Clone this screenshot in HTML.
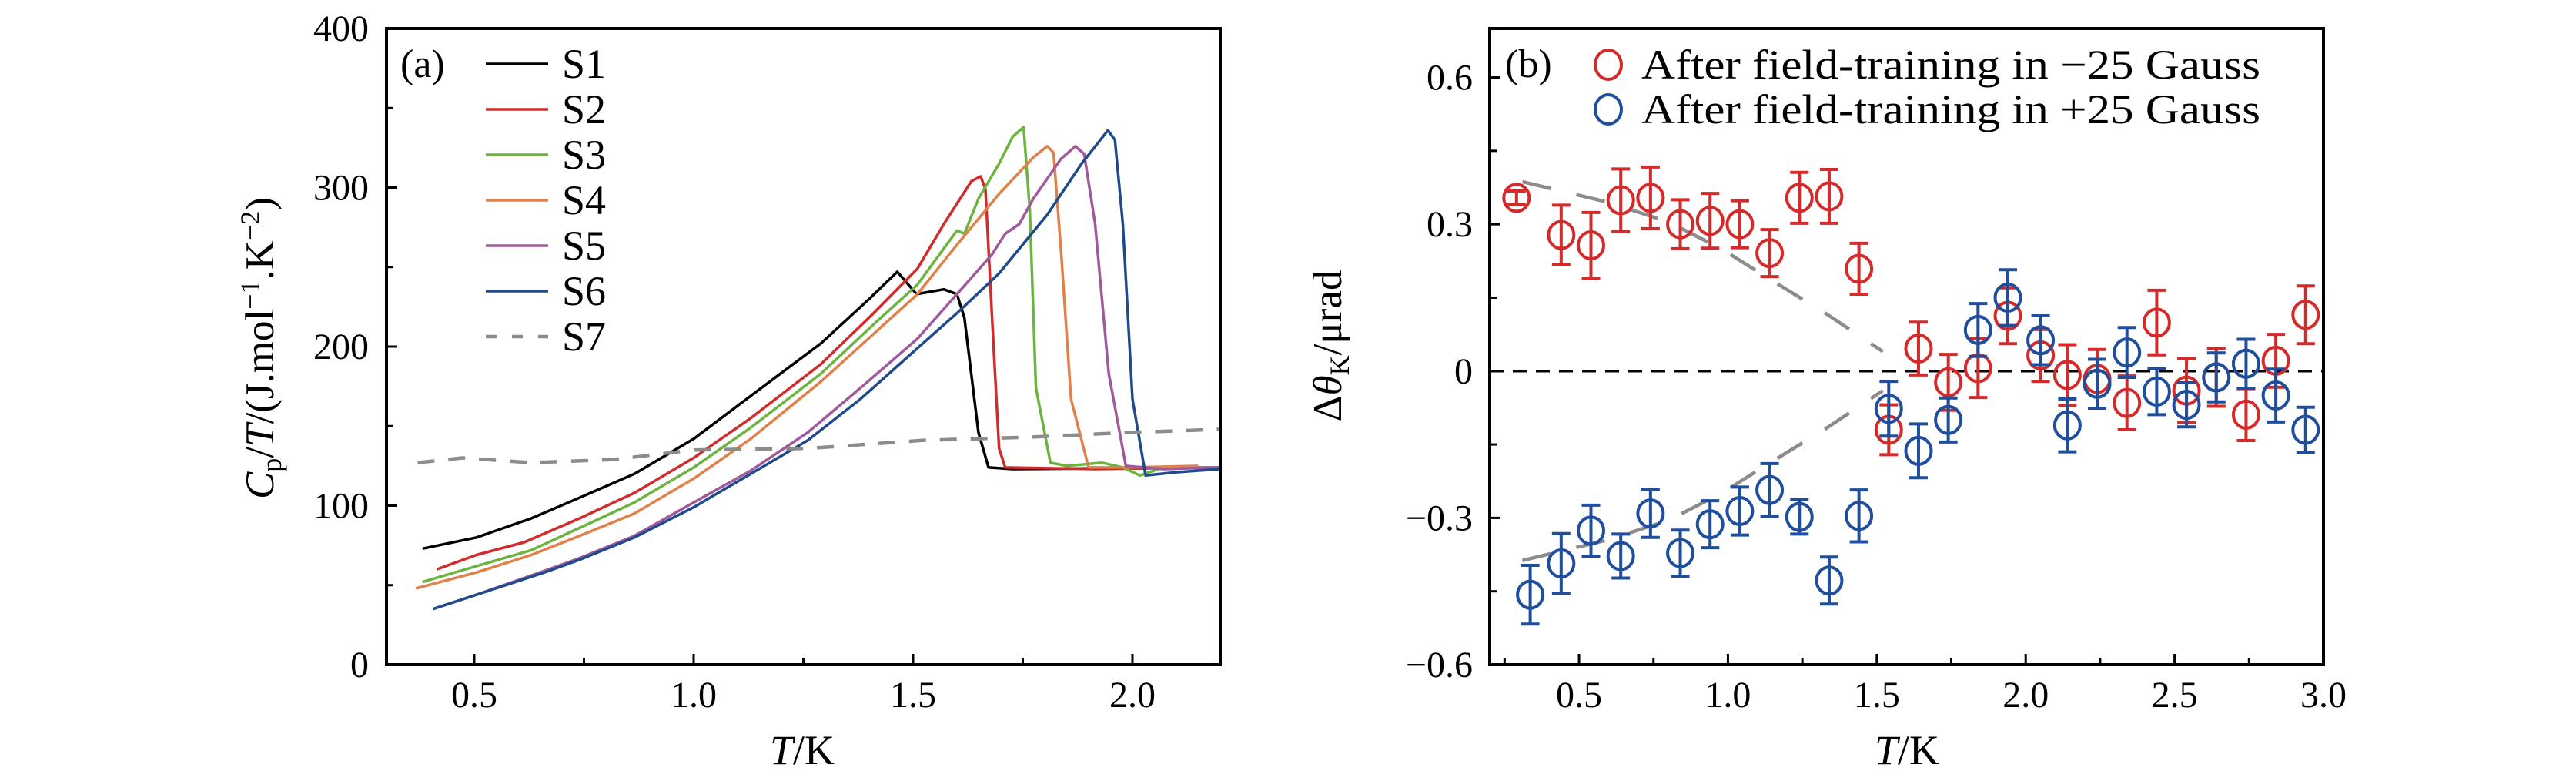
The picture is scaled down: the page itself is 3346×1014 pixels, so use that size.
<!DOCTYPE html>
<html><head><meta charset="utf-8"><style>
html,body{margin:0;padding:0;background:#fff;}
svg{display:block;font-family:"Liberation Serif",serif;}
</style></head><body>
<svg id="chart" width="3346" height="1014" viewBox="0 0 3346 1014" xmlns="http://www.w3.org/2000/svg">
<g id="pa"></g>
<g id="pb"></g>
</svg>
<script>
// ---------- Panel (a) data ----------
const aXTicks = [0.5, 1.0, 1.5, 2.0];
const aXTickLabels = ["0.5", "1.0", "1.5", "2.0"];
const aYTicks = [0, 100, 200, 300, 400];
const aYTickLabels = ["0", "100", "200", "300", "400"];
const aSeriesNames = ["S1", "S2", "S3", "S4", "S5", "S6", "S7"];
const s1T = [0.382,0.505,0.63,0.74,0.865,1.0,1.13,1.29,1.40,1.464,1.508,1.57,1.60,1.617,1.649,1.672,1.727,2.197];
const s1C = [73,80,92,105,120,142,169,202,230,247,233,236,233,218,146,124,123,124];
const s2T = [0.415,0.505,0.614,0.74,0.865,1.0,1.13,1.29,1.41,1.51,1.57,1.633,1.654,1.665,1.68,1.696,1.71,1.915,2.2];
const s2C = [60,69,77,92,108,130,155,189,221,249,277,304,307,299,218,136,124,123,124];
const s3T = [0.382,0.505,0.63,0.74,0.865,1.0,1.13,1.29,1.41,1.51,1.60,1.617,1.649,1.696,1.727,1.752,1.766,1.78,1.813,1.85,1.93,1.978,2.017,2.07,2.2];
const s3C = [52,62,72,86,102,124,149,183,214,239,273,271,293,315,332,338,286,174,127,125,127,124,119,124,124];
const s4T = [0.367,0.505,0.63,0.74,0.865,1.0,1.13,1.29,1.41,1.51,1.60,1.696,1.774,1.806,1.82,1.837,1.86,1.9,1.995,2.15];
const s4C = [48,58,69,81,95,117,142,178,208,233,264,296,319,326,322,261,167,124,124,125];
const s5T = [0.406,0.505,0.66,0.74,0.865,1.0,1.13,1.26,1.38,1.51,1.60,1.68,1.71,1.742,1.774,1.837,1.87,1.89,1.915,1.946,1.985,2.07,2.2];
const s5C = [35,44,59,67,81,102,122,146,174,205,233,258,271,277,293,318,326,321,277,183,125,123,124];
const s6T = [0.406,0.505,0.66,0.74,0.865,1.0,1.13,1.26,1.38,1.51,1.60,1.696,1.806,1.884,1.944,1.96,1.978,2.0,2.03,2.1,2.2];
const s6C = [35,44,58,66,80,99,120,141,167,199,221,246,283,315,336,330,277,167,119,121,123];
const s7T = [0.371,0.473,0.63,0.818,1.0,1.26,1.52,1.757,1.994,2.2];
const s7C = [127,130,127,129,135,136,141,143,146,148];

// ---------- Panel (b) data ----------
const bXTicks = [0.5, 1.0, 1.5, 2.0, 2.5, 3.0];
const bXTickLabels = ["0.5", "1.0", "1.5", "2.0", "2.5", "3.0"];
const bYTicks = [-0.6, -0.3, 0, 0.3, 0.6];
const bYTickLabels = ["\u22120.6", "\u22120.3", "0", "0.3", "0.6"];
const redT = [0.29,0.44,0.54,0.64,0.74,0.84,0.94,1.04,1.14,1.24,1.34,1.44,1.54,1.64,1.74,1.84,1.94,2.05,2.14,2.24,2.34,2.44,2.54,2.64,2.74,2.84,2.94];
const redV = [0.354,0.278,0.257,0.349,0.354,0.30,0.307,0.30,0.241,0.354,0.357,0.209,-0.12,0.046,-0.023,0.006,0.113,0.032,-0.008,-0.016,-0.065,0.099,-0.04,-0.013,-0.089,0.021,0.115];
const redE = [0.014,0.061,0.067,0.064,0.063,0.05,0.056,0.048,0.048,0.052,0.055,0.052,0.051,0.054,0.057,0.06,0.057,0.053,0.062,0.06,0.055,0.066,0.065,0.059,0.053,0.054,0.059];
const blueT = [0.336,0.44,0.54,0.64,0.74,0.84,0.94,1.04,1.14,1.24,1.34,1.44,1.54,1.64,1.74,1.84,1.94,2.05,2.14,2.24,2.34,2.44,2.54,2.64,2.74,2.84,2.94];
const blueV = [-0.457,-0.393,-0.326,-0.378,-0.291,-0.372,-0.313,-0.286,-0.243,-0.298,-0.428,-0.296,-0.077,-0.163,-0.10,0.084,0.15,0.063,-0.111,-0.026,0.038,-0.042,-0.069,-0.013,0.015,-0.05,-0.12];
const blueE = [0.06,0.061,0.052,0.045,0.049,0.047,0.048,0.049,0.054,0.035,0.048,0.053,0.056,0.055,0.045,0.054,0.057,0.05,0.054,0.05,0.051,0.047,0.045,0.05,0.05,0.054,0.046];
const guideUpT = [0.31,0.59,0.80,0.98,1.14,1.33,1.52];
const guideUpV = [0.387,0.346,0.305,0.249,0.188,0.117,0.04];
const guideLoT = [0.31,0.59,0.80,0.98,1.14,1.33,1.52];
const guideLoV = [-0.387,-0.346,-0.305,-0.249,-0.188,-0.117,-0.04];

const NS = "http://www.w3.org/2000/svg";
function mk(parent, tag, attrs, text){
  const e = document.createElementNS(NS, tag);
  for (const k in attrs) e.setAttribute(k, attrs[k]);
  if (text !== undefined) e.textContent = text;
  parent.appendChild(e);
  return e;
}

// ---------- Panel (a) ----------
(function(){
  const g = document.getElementById('pa');
  const L=502, R=1585, T=37, B=863;
  const x = v => L + (v-0.3)/(2.2-0.3)*(R-L);
  const y = v => B - v/400*(B-T);
  const colors = ["#000000","#d22b2b","#6db33f","#e0814a","#a05a9c","#1f4a8c","#8c8c8c"];
  const data = [[s1T,s1C],[s2T,s2C],[s3T,s3C],[s4T,s4C],[s5T,s5C],[s6T,s6C],[s7T,s7C]];
  data.forEach((d,i)=>{
    let pts = d[0].map((t,j)=>x(t).toFixed(1)+","+y(d[1][j]).toFixed(1)).join(" ");
    const p = mk(g,'polyline',{points:pts,fill:'none',stroke:colors[i],'stroke-width':3.5,'stroke-linejoin':'round'});
    if(i===6){p.setAttribute('stroke-dasharray','22 18');p.setAttribute('stroke-width',4.5);}
    
    
  });
  const box = mk(g,'rect',{x:L,y:T,width:R-L,height:B-T,fill:'none',stroke:'#000','stroke-width':4});
  
  
  for(let v=0.5; v<=2.01; v+=0.25){
    const major = Math.abs(v*2-Math.round(v*2))<1e-6;
    mk(g,'line',{x1:x(v),x2:x(v),y1:B,y2:B-(major?14:9),stroke:'#000','stroke-width':3});
  }
  aXTicks.forEach((v,i)=>{
    const t = mk(g,'text',{x:x(v),y:918,'font-size':48,'text-anchor':'middle'},aXTickLabels[i]);
    
    
  });
  for(let v=0; v<=400; v+=50){
    const major = v%100===0;
    mk(g,'line',{x1:L,x2:L+(major?14:9),y1:y(v),y2:y(v),stroke:'#000','stroke-width':3});
  }
  aYTicks.forEach((v,i)=>{
    const t = mk(g,'text',{x:479,y:y(v)+16,'font-size':48,'text-anchor':'end'},aYTickLabels[i]);
    
    
  });
  const lab = mk(g,'text',{x:520,y:100,'font-size':52},'(a)');
  
  
  aSeriesNames.forEach((n,i)=>{
    const yy = 83 + i*59;
    const ln = mk(g,'line',{x1:631,x2:712,y1:yy,y2:yy,stroke:colors[i],'stroke-width':i===6?4.5:3.5});
    if(i===6) ln.setAttribute('stroke-dasharray','14 20');
    
    
    const t = mk(g,'text',{x:730,y:yy+18,'font-size':54},n);
    
    
  });
  const xt = mk(g,'text',{x:1042,y:992,'font-size':54,'text-anchor':'middle'});
  xt.innerHTML = '<tspan font-style="italic">T</tspan>/K';
  
  
  const yt = mk(g,'text',{x:0,y:0,'font-size':53,'text-anchor':'middle',transform:'translate(355,452) rotate(-90)'});
  yt.innerHTML = '<tspan font-style="italic">C</tspan><tspan font-size="36" dy="10">p</tspan><tspan dy="-10">/</tspan><tspan font-style="italic">T</tspan>/(J.mol<tspan font-size="36" dy="-18">\u22121</tspan><tspan dy="18">.K</tspan><tspan font-size="36" dy="-18">\u22122</tspan><tspan dy="18">)</tspan>';
  
  
})();

// ---------- Panel (b) ----------
(function(){
  const g = document.getElementById('pb');
  const L=1935, R=3018, T=37, B=863;
  const x = v => L + (v-0.2)/(3.0-0.2)*(R-L);
  const y = v => B - (v+0.6)/1.3*(B-T);
  const zl = mk(g,'line',{x1:L,x2:R,y1:y(0),y2:y(0),stroke:'#000','stroke-width':3.5,'stroke-dasharray':'18 12'});
  
  
  [[guideUpT,guideUpV],[guideLoT,guideLoV]].forEach((d,i)=>{
    const pts = d[0].map((t,j)=>x(t).toFixed(1)+","+y(d[1][j]).toFixed(1)).join(" ");
    const p = mk(g,'polyline',{points:pts,fill:'none',stroke:'#8c8c8c','stroke-width':4.5,'stroke-dasharray':'38 34'});
    
    
  });
  function series(Ts,Vs,Es,color,name){
    Ts.forEach((t,i)=>{
      const cx=x(t), cy=y(Vs[i]), yt=y(Vs[i]+Es[i]), yb=y(Vs[i]-Es[i]);
      const grp = mk(g,'g',{stroke:color,'stroke-width':4,fill:'none'});
      
      
      mk(grp,'line',{x1:cx,x2:cx,y1:yt,y2:yb});
      mk(grp,'line',{x1:cx-12,x2:cx+12,y1:yt,y2:yt});
      mk(grp,'line',{x1:cx-12,x2:cx+12,y1:yb,y2:yb});
      mk(grp,'ellipse',{cx:cx,cy:cy,rx:16.5,ry:17.5});
    });
  }
  series(redT,redV,redE,'#d42a2a','red');
  series(blueT,blueV,blueE,'#1f4e9c','blue');
  const box = mk(g,'rect',{x:L,y:T,width:R-L,height:B-T,fill:'none',stroke:'#000','stroke-width':4});
  
  
  for(let v=0.25; v<=3.01; v+=0.25){
    const major = Math.abs(v*2-Math.round(v*2))<1e-6;
    mk(g,'line',{x1:x(v),x2:x(v),y1:B,y2:B-(major?14:9),stroke:'#000','stroke-width':3});
  }
  bXTicks.forEach((v,i)=>{
    const t = mk(g,'text',{x:x(v),y:918,'font-size':48,'text-anchor':'middle'},bXTickLabels[i]);
    
    
  });
  for(let k=-4; k<=4; k++){
    const v=k*0.15, major = k%2===0;
    mk(g,'line',{x1:L,x2:L+(major?14:9),y1:y(v),y2:y(v),stroke:'#000','stroke-width':3});
  }
  bYTicks.forEach((v,i)=>{
    const t = mk(g,'text',{x:1913,y:y(v)+16,'font-size':48,'text-anchor':'end'},bYTickLabels[i]);
    
    
  });
  const lab = mk(g,'text',{x:1955,y:100,'font-size':52},'(b)');
  
  
  const legend = [['#d42a2a','After field-training in \u221225 Gauss',84],['#1f4e9c','After field-training in +25 Gauss',142]];
  legend.forEach((l,i)=>{
    const c = mk(g,'ellipse',{cx:2089,cy:l[2],rx:17,ry:19,fill:'none',stroke:l[0],'stroke-width':4});
    
    
    const t = mk(g,'text',{x:2132,y:l[2]+18,'font-size':54,textLength:804,lengthAdjust:'spacingAndGlyphs'},l[1]);
    
    
  });
  const xt = mk(g,'text',{x:2477,y:992,'font-size':54,'text-anchor':'middle'});
  xt.innerHTML = '<tspan font-style="italic">T</tspan>/K';
  
  
  const yt = mk(g,'text',{x:0,y:0,'font-size':53,'text-anchor':'middle',transform:'translate(1742,449) rotate(-90)'});
  yt.innerHTML = '\u0394<tspan font-style="italic">\u03b8</tspan><tspan font-size="36" dy="10">K</tspan><tspan dy="-10">/\u03bcrad</tspan>';
  
  
})();
</script>
</body></html>
